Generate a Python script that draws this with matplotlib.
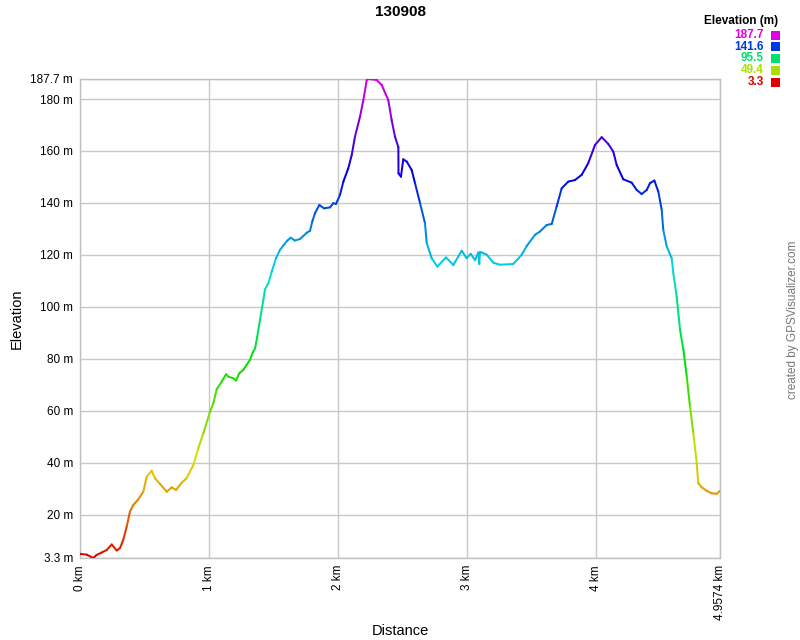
import matplotlib
matplotlib.use("Agg")
import matplotlib.pyplot as plt
import numpy as np
import colorsys
from matplotlib.collections import LineCollection
from matplotlib.patches import Rectangle

plt.rcParams['font.family'] = ['Liberation Sans', 'DejaVu Sans']

title = "130908"
dist_km = [0.000, 0.052, 0.103, 0.129, 0.168, 0.207, 0.246, 0.284, 0.310, 0.335,
           0.362, 0.387, 0.413, 0.452, 0.490, 0.517, 0.555, 0.581, 0.620, 0.672,
           0.710, 0.744, 0.788, 0.826, 0.878, 0.916, 0.955, 1.007, 1.033, 1.059,
           1.098, 1.131, 1.149, 1.187, 1.208, 1.234, 1.265, 1.317, 1.338, 1.356,
           1.373, 1.394, 1.420, 1.433, 1.459, 1.485, 1.518, 1.549, 1.575, 1.606,
           1.632, 1.665, 1.704, 1.756, 1.782, 1.799, 1.820, 1.854, 1.890, 1.937,
           1.962, 1.983, 2.014, 2.040, 2.078, 2.105, 2.130, 2.169, 2.195, 2.221,
           2.239, 2.298, 2.337, 2.388, 2.414, 2.440, 2.466, 2.467, 2.486, 2.504,
           2.531, 2.569, 2.595, 2.634, 2.672, 2.686, 2.724, 2.768, 2.835, 2.892,
           2.957, 2.995, 3.026, 3.060, 3.085, 3.093, 3.098, 3.112, 3.150, 3.201,
           3.253, 3.356, 3.421, 3.460, 3.524, 3.563, 3.615, 3.654, 3.692, 3.731,
           3.782, 3.834, 3.886, 3.937, 3.989, 4.041, 4.092, 4.131, 4.157, 4.208,
           4.273, 4.312, 4.351, 4.390, 4.415, 4.449, 4.480, 4.506, 4.518, 4.545,
           4.583, 4.596, 4.622, 4.648, 4.674, 4.700, 4.725, 4.751, 4.777, 4.789,
           4.816, 4.854, 4.893, 4.932, 4.9574]
elev_m = [4.9, 4.6, 3.3, 4.5, 5.4, 6.4, 8.5, 6.2, 7.1, 10.3,
          15.4, 21.2, 23.7, 25.9, 28.8, 34.6, 36.9, 34.0, 31.8, 28.8,
          30.5, 29.5, 32.3, 34.0, 39.1, 45.5, 51.3, 59.6, 62.9, 68.3,
          71.2, 74.0, 73.1, 72.5, 71.6, 74.4, 75.7, 79.6, 82.4, 84.0,
          88.5, 94.9, 102.6, 106.7, 109.1, 113.5, 118.7, 121.9, 123.6, 125.5,
          126.6, 125.5, 126.1, 128.5, 129.3, 132.8, 136.0, 139.2, 137.9, 138.3,
          139.9, 139.6, 143.1, 148.2, 153.3, 158.5, 165.5, 173.2, 179.6, 187.3,
          187.7, 187.3, 185.4, 179.6, 171.9, 165.5, 161.4, 151.4, 150.1, 156.8,
          155.9, 152.7, 147.6, 139.9, 132.2, 124.5, 118.7, 115.5, 119.0, 116.1,
          121.6, 118.7, 120.4, 118.0, 120.9, 116.5, 121.0, 120.9, 120.1, 117.0,
          116.2, 116.5, 120.0, 123.4, 127.7, 129.0, 131.5, 131.9, 138.6, 145.6,
          148.2, 148.8, 150.8, 155.3, 162.3, 165.3, 162.7, 159.7, 154.6, 149.1,
          147.8, 145.0, 143.4, 145.0, 147.6, 148.6, 144.3, 137.3, 129.6, 123.2,
          118.7, 112.9, 103.9, 91.1, 83.4, 73.1, 61.6, 51.3, 39.8, 32.1,
          30.5, 29.2, 28.2, 28.0, 29.2]

y_min, y_max = 3.3, 187.7
x_max = 4.9574
y_ticks = [3.3, 20, 40, 60, 80, 100, 120, 140, 160, 180, 187.7]
y_tick_labels = ["3.3 m", "20 m", "40 m", "60 m", "80 m", "100 m", "120 m",
                 "140 m", "160 m", "180 m", "187.7 m"]
x_ticks = [0, 1, 2, 3, 4, 4.9574]
x_tick_labels = ["0 km", "1 km", "2 km", "3 km", "4 km", "4.9574 km"]
legend_values = [187.7, 141.6, 95.5, 49.4, 3.3]


def elev_color(e):
    h = (e - y_min) / (y_max - y_min) * (300.0 / 360.0)
    return colorsys.hsv_to_rgb(h, 1.0, 0.88)


fig = plt.figure(figsize=(8, 6.4), dpi=100)
ax = fig.add_axes([0.1, 1 - 558 / 640, 0.8, (558 - 79) / 640])

x = np.array(dist_km)
y = np.array(elev_m)
pts = np.column_stack([x, y]).reshape(-1, 1, 2)
segs = np.concatenate([pts[:-1], pts[1:]], axis=1)
cols = [elev_color((a + b) / 2) for a, b in zip(y[:-1], y[1:])]
lc = LineCollection(segs, colors=cols, linewidths=1.45, capstyle='round', joinstyle='round', zorder=3)
ax.add_collection(lc)

ax.set_xlim(0, x_max)
ax.set_ylim(y_min, y_max)
ax.set_yticks(y_ticks)
ax.set_yticklabels(y_tick_labels, fontsize=8.5)
ax.set_xticks(x_ticks)
ax.set_xticklabels(x_tick_labels, fontsize=8.5, rotation=90)
ax.tick_params(length=0, pad=5)
ax.grid(True, color='#c8c8c8', linewidth=1.0, zorder=0)
for s in ax.spines.values():
    s.set_color('#c0c0c0')
    s.set_linewidth(1.0)

fig.text(400 / 800, 1 - 631 / 640, "Distance", ha='center', va='center', fontsize=10.5)
fig.text(17 / 800, 1 - 319 / 640, "Elevation", ha='center', va='center', fontsize=10.5, rotation=90)
fig.text(0.5, 1 - 12 / 640, title, ha='center', va='center', fontsize=11, fontweight='bold')

# legend
fig.text(778 / 800, 1 - 21 / 640, "Elevation (m)", ha='right', va='center', fontsize=8.5, fontweight='bold')
row_y = [35, 46.5, 58, 70, 82]
for v, ry in zip(legend_values, row_y):
    c = elev_color(v)
    fig.text(764 / 800, 1 - ry / 640, f"{v}", ha='right', va='center', fontsize=8.5,
             fontweight='bold', color=c)
    fig.patches.append(Rectangle((771 / 800, 1 - (ry + 4.5) / 640), 9 / 800, 9 / 640,
                                 transform=fig.transFigure, facecolor=c, edgecolor='none'))

fig.text(793 / 800, 1 - 320 / 640, "created by GPSVisualizer.com", rotation=90,
         ha='center', va='center', fontsize=8.5, color='#777777')

fig.savefig("out.png", dpi=100)
